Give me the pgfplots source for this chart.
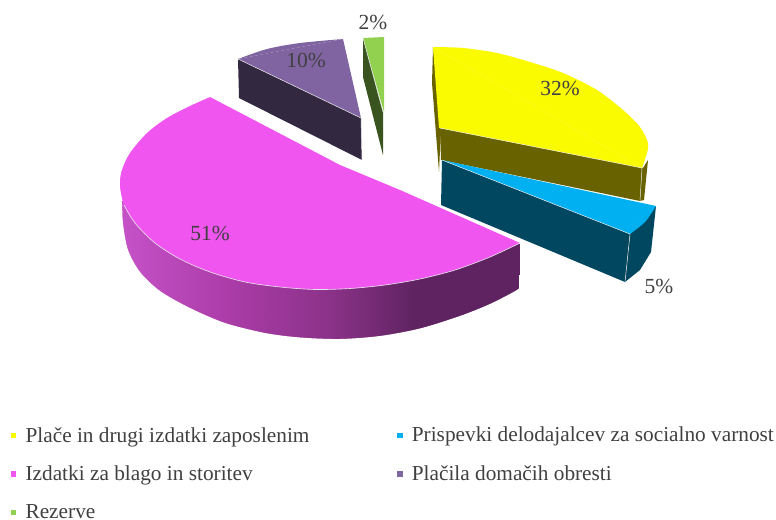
\documentclass[border=0pt]{standalone}
\usepackage{pgfplots}
\pgfplotsset{compat=1.18}
\usepackage{fontspec}
\setmainfont{Liberation Serif}
\definecolor{cYellow}{HTML}{FAFA00}
\definecolor{cYellowD}{HTML}{686300}
\definecolor{cBlue}{HTML}{00B0F0}
\definecolor{cBlueD}{HTML}{00475F}
\definecolor{cPink}{HTML}{F055F0}
\definecolor{cPurple}{HTML}{8064A2}
\definecolor{cPurpleD}{HTML}{322840}
\definecolor{cGreen}{HTML}{92D050}
\definecolor{cGreenD}{HTML}{3A5420}
\definecolor{cEdge}{HTML}{E8E8E8}
\definecolor{cText}{HTML}{404040}
\begin{document}
\begin{tikzpicture}
\useasboundingbox (0,0) rectangle (776bp,520bp);
\begin{axis}[
  scale only axis,
  width=776bp, height=520bp,
  xmin=0, xmax=776, ymin=0, ymax=520,
  y dir=reverse,
  hide axis,
  clip=false,
  colormap={pinkside}{rgb255(0pt)=(198,82,200); rgb255(109pt)=(171,60,168); rgb255(212pt)=(138,50,136); rgb255(296pt)=(94,35,96); rgb255(400pt)=(94,35,96)},
  point meta min=120, point meta max=520,
  legend columns=2,
  legend cell align=left,
  legend style={
    at={(axis cs:8,423)}, anchor=north west,
    draw=none, fill=none,
    font=\fontsize{21.3bp}{25bp}\selectfont\color{cText},
    /tikz/every odd column/.append style={column sep=8bp},
    /tikz/every even column/.append style={column sep=86bp},
    row sep=18.2bp,
  },
  every axis plot/.append style={forget plot},
]
% pink side: gradient band, outer part masked by white below
\addplot[surf, shader=interp, point meta=x, mesh/rows=2] coordinates {
  (119,200) (230,212) (333,224) (417,233) (519.5,244)
  (119,345) (230,345) (333,345) (417,345) (515,345)};
\addplot[smooth, fill=white, draw=none] coordinates {(120,185) (122,205) (123,224) (128,250) (140,272) (160,291) (190,308) (225,323) (265,333) (300,337.5) (340,339) (380,336) (420,328.5) (460,316) (490,304) (517,290) (540,275) (560,360) (100,360) (100,180) (119,180)};
% green slice
\addplot[fill=cGreenD, draw=none] coordinates {(363,38) (383,112) (383,155) (363,77)};
\addplot[fill=cGreen, draw=none] coordinates {(363,38) (384,37) (384,112)};
\addplot[cEdge, line width=0.5bp] coordinates {(363,38) (383,112)};
% purple slice
\addplot[fill=cPurpleD, draw=none] coordinates {(238,59) (361,118) (362,160) (239,98)};
\addplot[fill=cPurple, draw=none] coordinates {(238,59) (343,39) (361,118)};
\addplot[smooth, fill=cPurple, draw=none] coordinates {(238,59) (267,49) (300,43) (343,39)};
\addplot[cEdge, line width=0.5bp] coordinates {(238,59) (361,118) (362,160)};
% yellow slice
\addplot[fill=cYellowD, draw=none] coordinates {(433,47) (432,83) (439,172) (441,128)};
\addplot[fill=cYellowD, draw=none] coordinates {(440,128) (643,168) (648,160) (644,200) (640,201) (441,160)};
\addplot[fill=cYellow, draw=none] coordinates {(433,47) (642,168) (439,128)};
\addplot[smooth, fill=cYellow, draw=none] coordinates {(433,47) (463,48) (497,53) (530,62) (563,73) (597,90) (623,110) (640,127) (648,143) (647,153) (642,168)};
\addplot[cEdge, line width=0.5bp] coordinates {(440,128) (642,168) (640,201)};
% blue slice
\addplot[fill=cBlueD, draw=none] coordinates {(442,160) (630,234) (625,282) (441,205)};
\addplot[fill=cBlueD, draw=none] coordinates {(630,234) (656,206) (651,252) (640,270) (625,282)};
\addplot[fill=cBlue, draw=none] coordinates {(442,160) (656,206) (630,234)};
\addplot[smooth, fill=cBlue, draw=none] coordinates {(656,206) (645,222) (630,234)};
\addplot[cEdge, line width=0.5bp] coordinates {(442,160) (630,234) (625,282)};
% pink top
\addplot[fill=cPink, draw=none] coordinates {(210,97) (340,165) (400,190) (520,243) (122,185)};
\addplot[smooth, fill=cPink, draw=none] coordinates {(520,243) (490,257) (455,270) (420,279) (385,285) (350,288.5) (315,289.5) (280,287) (245,282) (210,272) (180,259) (155,243) (135,223) (124,205) (120,185) (122,170)};
\addplot[smooth, fill=cPink, draw=none] coordinates {(124,205) (120,185) (122,170) (130,153) (147,133) (167,118) (190,106) (210,97)};
\addplot[smooth, cEdge, line width=0.6bp] coordinates {(520,243) (490,257) (455,270) (420,279) (385,285) (350,288.5) (315,289.5) (280,287) (245,282) (210,272) (180,259) (155,243) (135,223) (124,205)};
% percentage labels
\addplot[draw=none, nodes near coords, point meta=explicit symbolic,
  every node near coord/.style={anchor=center, font=\fontsize{21.5bp}{25bp}\selectfont, text=cText}]
  coordinates {(560,88)[32\%] (659,286)[5\%] (210,233)[51\%] (306,60)[10\%] (373,22)[2\%]};
% legend
\addlegendimage{only marks, mark=square*, mark size=2.2bp, cYellow}
\addlegendimage{only marks, mark=square*, mark size=2.2bp, cBlue}
\addlegendimage{only marks, mark=square*, mark size=2.2bp, cPink}
\addlegendimage{only marks, mark=square*, mark size=2.2bp, cPurple}
\addlegendimage{only marks, mark=square*, mark size=2.2bp, cGreen}
\legend{Plače in drugi izdatki zaposlenim, Prispevki delodajalcev za socialno varnost, Izdatki za blago in storitev, Plačila domačih obresti, Rezerve}
\end{axis}
\end{tikzpicture}
\end{document}
